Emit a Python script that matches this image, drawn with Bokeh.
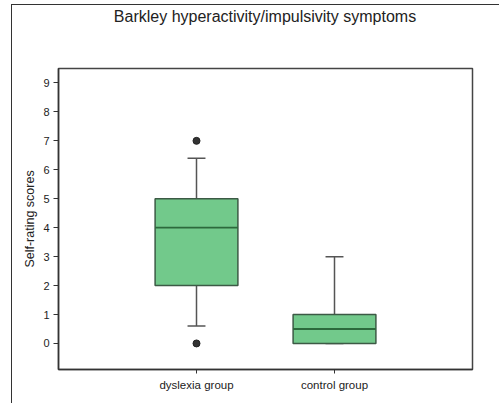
from bokeh.plotting import figure
from bokeh.layouts import column
from bokeh.models import FixedTicker, Div
from bokeh.embed import file_html
from bokeh.resources import INLINE

# Group names and their positions on the x axis
groups = ["dyslexia group", "control group"]
positions = [1, 2]

# Five-number summaries per group (self-rating scores)
q1 = [2.0, 0.0]
medians = [4.0, 0.5]
q3 = [5.0, 1.0]
whisker_low = [0.6, 0.0]
whisker_high = [6.4, 3.0]

# Outlying observations
outlier_x = [1, 1]
outlier_y = [7.0, 0.0]

y_ticks = [0, 1, 2, 3, 4, 5, 6, 7, 8, 9]

TITLE = "Barkley hyperactivity/impulsivity symptoms"
FONT = "Liberation Sans"
BOX_W = 0.6
CAP_W = 0.13

# Title strip, centred over the plotting frame
heading = Div(
    text=(f'<div style="font-family:\'{FONT}\';font-size:16px;color:#222;'
          f'text-align:center;line-height:24px;padding-left:19px;width:487px;'
          f'box-sizing:border-box;white-space:nowrap">{TITLE}</div>'),
    width=487, height=24, margin=(0, 0, 0, 0),
)

p = figure(
    width=487, height=374,
    x_range=(0, 3), y_range=(-0.9, 9.5),
    output_backend="svg", toolbar_location=None,
    min_border_left=46, min_border_right=27,
    min_border_top=39, min_border_bottom=34,
)
p.margin = (0, 0, 0, 0)

p.xgrid.visible = False
p.ygrid.visible = False
p.outline_line_color = "#444"
p.outline_line_width = 1.5
p.background_fill_color = "white"
p.border_fill_color = "white"

# Axes
p.yaxis.ticker = FixedTicker(ticks=y_ticks)
p.yaxis.axis_label = "Self-rating scores"
p.yaxis.axis_label_text_font = FONT
p.yaxis.axis_label_text_font_style = "normal"
p.yaxis.axis_label_text_font_size = "12.5px"
p.yaxis.axis_label_text_color = "#222"
p.yaxis.axis_label_standoff = 3

p.xaxis.ticker = FixedTicker(ticks=positions)
p.xaxis.major_label_overrides = {pos: name for pos, name in zip(positions, groups)}

for ax in (p.xaxis, p.yaxis):
    ax.axis_line_color = "#333"
    ax.axis_line_width = 1.5
    ax.major_tick_line_color = "#333"
    ax.major_tick_in = 0
    ax.minor_tick_line_color = None
    ax.major_label_text_font = FONT
    ax.major_label_text_color = "#222"
p.yaxis.major_label_text_font_size = "11px"
p.xaxis.major_label_text_font_size = "11.5px"
p.yaxis.major_tick_out = 5
p.yaxis.major_label_standoff = 4
p.xaxis.major_tick_out = 4
p.xaxis.major_label_standoff = 5

# Whiskers
p.segment(x0=positions, y0=q3, x1=positions, y1=whisker_high, line_color="#555", line_width=1.5)
p.segment(x0=positions, y0=q1, x1=positions, y1=whisker_low, line_color="#555", line_width=1.5)
cap_l = [x - CAP_W / 2 for x in positions]
cap_r = [x + CAP_W / 2 for x in positions]
p.segment(x0=cap_l, y0=whisker_high, x1=cap_r, y1=whisker_high, line_color="#555", line_width=1.5)
p.segment(x0=cap_l, y0=whisker_low, x1=cap_r, y1=whisker_low, line_color="#555", line_width=1.5)

# Boxes
p.vbar(x=positions, bottom=q1, top=q3, width=BOX_W,
       fill_color="#72c98b", line_color="#3c5a45", line_width=1.5)

# Medians
med_l = [x - BOX_W / 2 for x in positions]
med_r = [x + BOX_W / 2 for x in positions]
p.segment(x0=med_l, y0=medians, x1=med_r, y1=medians, line_color="#2c6a3c", line_width=1.8)

# Outliers
p.scatter(outlier_x, outlier_y, size=7, fill_color="#333", line_color="#222")

page = column(heading, p, spacing=0)
page.margin = (4, 0, 0, 11)
page.styles = {"border-left": "1.5px solid #333", "border-top": "1.5px solid #333",
               "background": "white"}

open("out.html", "w").write(file_html(page, INLINE))
